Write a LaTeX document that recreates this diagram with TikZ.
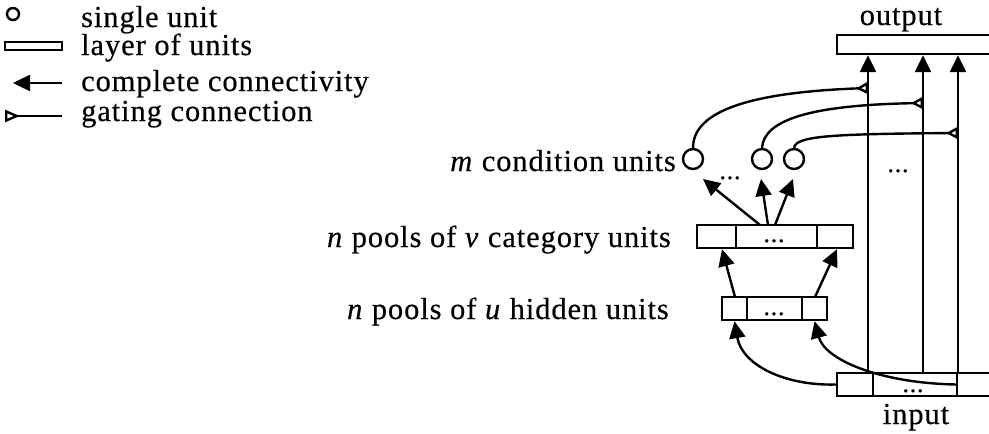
\documentclass[tikz,border=0pt]{standalone}
\usepackage{fontspec}
\setmainfont{Liberation Serif}[LetterSpace=3, FakeBold=0.4]
\usetikzlibrary{arrows.meta}
\begin{document}
\begin{tikzpicture}[x=1pt,y=-1pt, line width=2.4pt,
  lbl/.style={font=\fontsize{30.5}{34}\selectfont, inner sep=0pt},
  dotlbl/.style={font=\fontsize{26}{28}\selectfont, inner sep=0pt, anchor=base},
  unit/.style={circle, draw, minimum size=20pt, inner sep=0pt},
  cc/.style={-{Triangle[length=17pt,width=16pt]}},
  gate/.style={-{Triangle[open,reversed,length=12pt,width=12pt]}},
  cell/.style={draw, minimum height=23pt, inner sep=0pt}]
\useasboundingbox (0,0) rectangle (989,434);
\clip (0,0) rectangle (989,434);
% legend
\node[unit, minimum size=12pt] (lc) at (13,14) {};
\node[draw, minimum width=57pt, minimum height=8pt, inner sep=0pt] (lr) at (33.5,46) {};
\coordinate (la1) at (62,83);
\coordinate (la2) at (13,83);
\draw[cc] (la1) -- (la2);
\coordinate (lg1) at (62,116);
\coordinate (lg2) at (5,116);
\draw[-{Triangle[open,reversed,length=15pt,width=12pt]}] (lg1) -- (lg2);
\node[lbl, anchor=base west] (t1) at (80,27) {single unit};
\node[lbl, anchor=base west] (t2) at (80,55) {layer of units};
\node[lbl, anchor=base west] (t3) at (80,91) {complete connectivity};
\node[lbl, anchor=base west] (t4) at (80,121) {gating connection};
% output / input layers
\node[cell, minimum width=163pt, minimum height=19pt] (out) at (918.5,44.5) {};
\node[lbl, anchor=base] (tout) at (901,25) {output};
\node[cell, minimum width=36pt] (in1) at (855,384.5) {};
\node[cell, minimum width=84pt] (in2) at (915,384.5) {};
\node[cell, minimum width=43pt] (in3) at (978.5,384.5) {};
\node[dotlbl] (ind) at (913,392) {...};
\node[lbl, anchor=base] (tin) at (916,424) {input};
% vertical pathways
\coordinate (l1) at (868,0);
\coordinate (l2) at (923,0);
\coordinate (l3) at (958,0);
\draw[cc] (in2.north -| l1) -- (out.south -| l1);
\draw[cc] (in2.north -| l2) -- (out.south -| l2);
\draw[cc] (in2.north -| l3) -- (out.south -| l3);
\node[dotlbl] (vd) at (898,172) {...};
% condition units
\node[unit] (c1) at (693,159) {};
\node[unit] (c2) at (762,159) {};
\node[unit] (c3) at (794,159) {};
\node[dotlbl] (cd) at (730,179) {...};
\node[lbl, anchor=base east] (tc) at (677,171) {\textit{m} condition units};
% gating connections
\coordinate (g1) at (868,88);
\coordinate (g2) at (923,103);
\coordinate (g3) at (958,133);
\draw[gate] (c1.north) .. controls (693,108) and (760,92) .. (g1);
\draw[gate] (c2.north) .. controls (764,120) and (810,105) .. (g2);
\draw[gate] (c3.north) .. controls (796,136) and (830,134) .. (g3);
% category layer
\node[cell, minimum width=39pt] (k1) at (716.5,236.5) {};
\node[cell, minimum width=81pt] (k2) at (776.5,236.5) {};
\node[cell, minimum width=36pt] (k3) at (835,236.5) {};
\node[dotlbl] (kd) at (774,242) {...};
\node[lbl, anchor=base east] (tk) at (672,247) {\textit{n} pools of \textit{v} category units};
% hidden layer
\node[cell, minimum width=25pt] (h1) at (734.5,308.5) {};
\node[cell, minimum width=55pt] (h2) at (774.5,308.5) {};
\node[cell, minimum width=25pt] (h3) at (814.5,308.5) {};
\node[dotlbl] (hd) at (774,315) {...};
\node[lbl, anchor=base east] (th) at (670,319) {\textit{n} pools of \textit{u} hidden units};
% category -> condition
\coordinate (s1) at (760,225);
\coordinate (s2) at (768,225);
\coordinate (s3) at (775,225);
\coordinate (a1) at (703,179);
\coordinate (a2) at (761,179);
\coordinate (a3) at (793,179);
\draw[cc] (s1) -- (a1);
\draw[cc] (s2) -- (a2);
\draw[cc] (s3) -- (a3);
% hidden -> category
\coordinate (hb1) at (735,297);
\coordinate (hb2) at (815,297);
\draw[cc] (hb1) -- (k1.south -| 722,0);
\draw[cc] (hb2) -- (k3.south -| 837,0);
% input -> hidden
\draw[cc] (in1.west) .. controls (785,386) and (742,365) .. (h1.south);
\draw[cc] (in3.west) .. controls (880,383) and (825,360) .. (h3.south);
\end{tikzpicture}
\end{document}
